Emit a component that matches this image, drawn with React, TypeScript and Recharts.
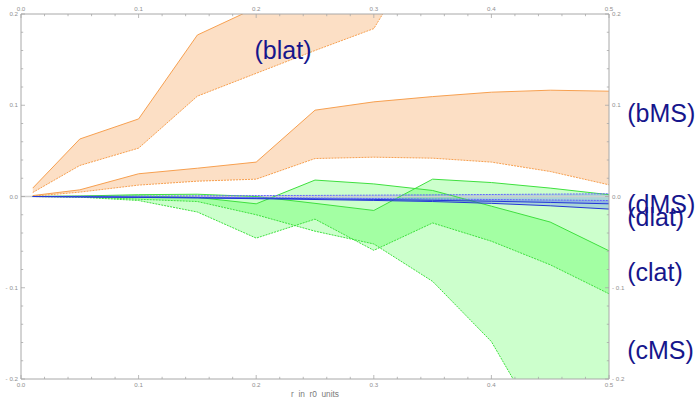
import React from "react";
import {
  ComposedChart,
  Area,
  Line,
  XAxis,
  YAxis,
  ReferenceLine,
  ReferenceDot,
} from "recharts";

// sample positions (r in r0 units)
const xs = [0.01, 0.05, 0.1, 0.15, 0.2, 0.25, 0.3, 0.35, 0.4, 0.45, 0.5];

// (blat) band
const blatHi = [0.0092, 0.063, 0.085, 0.177, 0.207, 0.245, 0.285, 0.32, 0.35, 0.37, 0.385];
const blatLo = [0.0044, 0.034, 0.053, 0.11, 0.135, 0.16, 0.184, 0.29, 0.31, 0.33, 0.35];
// (bMS) band
const bMSHi = [0.001, 0.0073, 0.0249, 0.031, 0.0377, 0.0946, 0.1037, 0.1095, 0.1143, 0.1165, 0.1154];
const bMSLo = [0.0003, 0.0048, 0.0125, 0.0168, 0.019, 0.0416, 0.0431, 0.042, 0.0377, 0.0274, 0.0128];
// (clat) band
const clatHi = [0, 0.0002, 0.0005, -0.001, -0.008, 0.018, 0.0138, 0.0066, -0.0106, -0.028, -0.0595];
const clatLo = [0, -0.0007, -0.0044, -0.017, -0.0456, -0.0248, -0.059, -0.029, -0.049, -0.0748, -0.1066];
// (cMS) band
const cMSHi = [0, 0.0005, 0.002, 0.0025, 0.0, -0.0075, -0.0153, 0.019, 0.0153, 0.0092, 0.002];
const cMSLo = [0, -0.0003, -0.003, -0.0055, -0.02, -0.038, -0.052, -0.093, -0.159, -0.27, -0.36];
// (dMS) band
const dMSHi = [0, 0.0002, 0.0004, 0.0007, 0.001, 0.0012, 0.0015, 0.0018, 0.0022, 0.0026, 0.003];
const dMSLo = [0, -0.0003, -0.0008, -0.0012, -0.0018, -0.0025, -0.0032, -0.0042, -0.0052, -0.0065, -0.008];
// (dlat) band
const dlatHi = [0, -0.0002, -0.0005, -0.0008, -0.0012, -0.0017, -0.0022, -0.0028, -0.0033, -0.0038, -0.0044];
const dlatLo = [0, -0.0004, -0.001, -0.0016, -0.0024, -0.0033, -0.0043, -0.0055, -0.0075, -0.0102, -0.0138];

// axis ticks
const xTicks = [0, 0.02, 0.04, 0.06, 0.08, 0.1, 0.12, 0.14, 0.16, 0.18, 0.2, 0.22, 0.24, 0.26, 0.28, 0.3, 0.32, 0.34, 0.36, 0.38, 0.4, 0.42, 0.44, 0.46, 0.48, 0.5];
const yTicks = [-0.2, -0.18, -0.16, -0.14, -0.12, -0.1, -0.08, -0.06, -0.04, -0.02, 0, 0.02, 0.04, 0.06, 0.08, 0.1, 0.12, 0.14, 0.16, 0.18, 0.2];

// band labels
const bandLabels = [
  { text: "(blat)", x: 0.2228, y: 0.158, anchor: "middle" },
  { text: "(bMS)", x: 0.5155, y: 0.0884, anchor: "start" },
  { text: "(dMS)", x: 0.5155, y: -0.0113, anchor: "start" },
  { text: "(dlat)", x: 0.5155, y: -0.0255, anchor: "start" },
  { text: "(clat)", x: 0.5155, y: -0.0852, anchor: "start" },
  { text: "(cMS)", x: 0.5155, y: -0.1706, anchor: "start" },
];

const data = xs.map((x, i) => ({
  x,
  blat: [blatLo[i], blatHi[i]],
  blatHi: blatHi[i],
  blatLo: blatLo[i],
  bMS: [bMSLo[i], bMSHi[i]],
  bMSHi: bMSHi[i],
  bMSLo: bMSLo[i],
  clat: [clatLo[i], clatHi[i]],
  clatHi: clatHi[i],
  clatLo: clatLo[i],
  cMS: [cMSLo[i], cMSHi[i]],
  cMSHi: cMSHi[i],
  cMSLo: cMSLo[i],
  dMS: [dMSLo[i], dMSHi[i]],
  dMSHi: dMSHi[i],
  dMSLo: dMSLo[i],
  dlat: [dlatLo[i], dlatHi[i]],
  dlatHi: dlatHi[i],
  dlatLo: dlatLo[i],
}));

const FRAME = "#a8a8a8";
const TICKTXT = "#8f8f8f";
const FONT = "'Liberation Sans', Arial, sans-serif";

const isMajor = (v: number) => Math.abs(v * 10 - Math.round(v * 10)) < 1e-6;
const fmt = (v: number) => {
  if (Math.abs(v) < 1e-9) return "0.0";
  return v < 0 ? "- " + (-v).toFixed(1) : v.toFixed(1);
};

const makeTick = (side: "bottom" | "top" | "left" | "right") => (props: any) => {
  const { x, y, payload } = props;
  const v = payload.value;
  const major = isMajor(v);
  const len = major ? 4 : 2.2;
  let line;
  let txt = null;
  if (side === "bottom") {
    line = <line x1={x} y1={y} x2={x} y2={y - len} stroke={FRAME} strokeWidth={0.8} />;
    if (major)
      txt = (
        <text x={x} y={y + 8} textAnchor="middle" fontSize={6.2} fill={TICKTXT} fontFamily={FONT}>
          {fmt(v)}
        </text>
      );
  } else if (side === "top") {
    line = <line x1={x} y1={y} x2={x} y2={y + len} stroke={FRAME} strokeWidth={0.8} />;
    if (major)
      txt = (
        <text x={x} y={y - 2.7} textAnchor="middle" fontSize={6.2} fill={TICKTXT} fontFamily={FONT}>
          {fmt(v)}
        </text>
      );
  } else if (side === "left") {
    line = <line x1={x} y1={y} x2={x + len} y2={y} stroke={FRAME} strokeWidth={0.8} />;
    if (major)
      txt = (
        <text x={x - 3} y={y + 2.2} textAnchor="end" fontSize={6.2} fill={TICKTXT} fontFamily={FONT}>
          {fmt(v)}
        </text>
      );
  } else {
    line = <line x1={x} y1={y} x2={x - len} y2={y} stroke={FRAME} strokeWidth={0.8} />;
    if (major)
      txt = (
        <text x={x + 3} y={y + 2.2} textAnchor="start" fontSize={6.2} fill={TICKTXT} fontFamily={FONT}>
          {fmt(v)}
        </text>
      );
  }
  return (
    <g>
      {line}
      {txt}
    </g>
  );
};

const ORANGE_LINE = "#f7a050";
const ORANGE_FILL = "#f58a2a";
const GREEN_LINE = "#3fe03f";
const GREEN_FILL = "#00ff00";
const BLUE_SOLID = "#2436d8";
const BLUE_DASH = "#6464ff";
const BLUE_FILL = "#3344ff";
const LABEL = "#16168c";

const common = { xAxisId: "b", yAxisId: "l", isAnimationActive: false, type: "linear" as const };

export default function App() {
  return (
    <div style={{ position: "absolute", left: 0, top: 0, background: "#fff" }}>
      <ComposedChart width={699} height={399} data={data} margin={{ top: 0, right: 0, bottom: 0, left: 0 }}>
        <XAxis
          xAxisId="b"
          dataKey="x"
          type="number"
          orientation="bottom"
          domain={[0, 0.5]}
          allowDataOverflow
          ticks={xTicks}
          interval={0}
          height={20}
          tickSize={0}
          tickMargin={0}
          tickLine={false}
          axisLine={{ stroke: FRAME, strokeWidth: 1 }}
          tick={makeTick("bottom")}
          label={{
            content: (p: any) => {
              const vb = p.viewBox;
              return (
                <text
                  x={vb.x + vb.width / 2}
                  y={vb.y + 18}
                  textAnchor="middle"
                  fontSize={8.3}
                  fill="#7a7a7a"
                  fontFamily={FONT}
                  style={{ whiteSpace: "pre" }}
                >
                  {"r  in  r0  units"}
                </text>
              );
            },
          }}
        />
        <XAxis
          xAxisId="t"
          dataKey="x"
          type="number"
          orientation="top"
          domain={[0, 0.5]}
          allowDataOverflow
          ticks={xTicks}
          interval={0}
          height={14}
          tickSize={0}
          tickMargin={0}
          tickLine={false}
          axisLine={{ stroke: FRAME, strokeWidth: 1 }}
          tick={makeTick("top")}
        />
        <YAxis
          yAxisId="l"
          type="number"
          orientation="left"
          domain={[-0.2, 0.2]}
          allowDataOverflow
          ticks={yTicks}
          interval={0}
          width={21}
          tickSize={0}
          tickMargin={0}
          tickLine={false}
          axisLine={{ stroke: FRAME, strokeWidth: 1 }}
          tick={makeTick("left")}
        />
        <YAxis
          yAxisId="r"
          type="number"
          orientation="right"
          domain={[-0.2, 0.2]}
          allowDataOverflow
          ticks={yTicks}
          interval={0}
          width={90}
          tickSize={0}
          tickMargin={0}
          tickLine={false}
          axisLine={{ stroke: FRAME, strokeWidth: 1 }}
          tick={makeTick("right")}
        />

        <ReferenceLine xAxisId="b" yAxisId="l" y={0} stroke="#cfcfcf" strokeWidth={1.5} />

        {/* orange bands */}
        <Area {...common} dataKey="blat" stroke="none" fill={ORANGE_FILL} fillOpacity={0.27} />
        <Area {...common} dataKey="bMS" stroke="none" fill={ORANGE_FILL} fillOpacity={0.27} />
        <Line {...common} dataKey="blatHi" stroke={ORANGE_LINE} strokeWidth={1} dot={false} />
        <Line {...common} dataKey="blatLo" stroke={ORANGE_LINE} strokeWidth={1} strokeDasharray="2 1" dot={false} />
        <Line {...common} dataKey="bMSHi" stroke={ORANGE_LINE} strokeWidth={1} dot={false} />
        <Line {...common} dataKey="bMSLo" stroke={ORANGE_LINE} strokeWidth={1} strokeDasharray="2 1" dot={false} />

        {/* green bands */}
        <Area {...common} dataKey="cMS" stroke="none" fill={GREEN_FILL} fillOpacity={0.2} />
        <Area {...common} dataKey="clat" stroke="none" fill={GREEN_FILL} fillOpacity={0.2} />
        <Line {...common} dataKey="cMSHi" stroke={GREEN_LINE} strokeWidth={1} dot={false} />
        <Line {...common} dataKey="cMSLo" stroke={GREEN_LINE} strokeWidth={1} strokeDasharray="2 1" dot={false} />
        <Line {...common} dataKey="clatHi" stroke={GREEN_LINE} strokeWidth={1} dot={false} />
        <Line {...common} dataKey="clatLo" stroke={GREEN_LINE} strokeWidth={1} strokeDasharray="2 1" dot={false} />

        {/* blue bands */}
        <Area {...common} dataKey="dMS" stroke="none" fill={BLUE_FILL} fillOpacity={0.22} />
        <Area {...common} dataKey="dlat" stroke="none" fill={BLUE_FILL} fillOpacity={0.22} />
        <Line {...common} dataKey="dMSHi" stroke={BLUE_DASH} strokeWidth={1} strokeDasharray="2 1" dot={false} />
        <Line {...common} dataKey="dMSLo" stroke={BLUE_SOLID} strokeWidth={1} dot={false} />
        <Line {...common} dataKey="dlatHi" stroke={BLUE_DASH} strokeWidth={1} strokeDasharray="2 1" dot={false} />
        <Line {...common} dataKey="dlatLo" stroke={BLUE_SOLID} strokeWidth={1} dot={false} />

        {bandLabels.map((b) => (
          <ReferenceDot
            key={b.text}
            xAxisId="b"
            yAxisId="l"
            x={b.x}
            y={b.y}
            r={0.01}
            fill="none"
            stroke="none"
            ifOverflow="visible"
            label={{
              content: (p: any) => {
                const vb = p.viewBox || {};
                const cx = (vb.x ?? 0) + (vb.width ?? 0) / 2;
                const cy = (vb.y ?? 0) + (vb.height ?? 0) / 2;
                return (
                  <text
                    x={cx}
                    y={cy + 6.5}
                    textAnchor={b.anchor}
                    fontSize={25}
                    fill={LABEL}
                    fontFamily={FONT}
                  >
                    {b.text}
                  </text>
                );
              },
            }}
          />
        ))}
      </ComposedChart>
    </div>
  );
}
